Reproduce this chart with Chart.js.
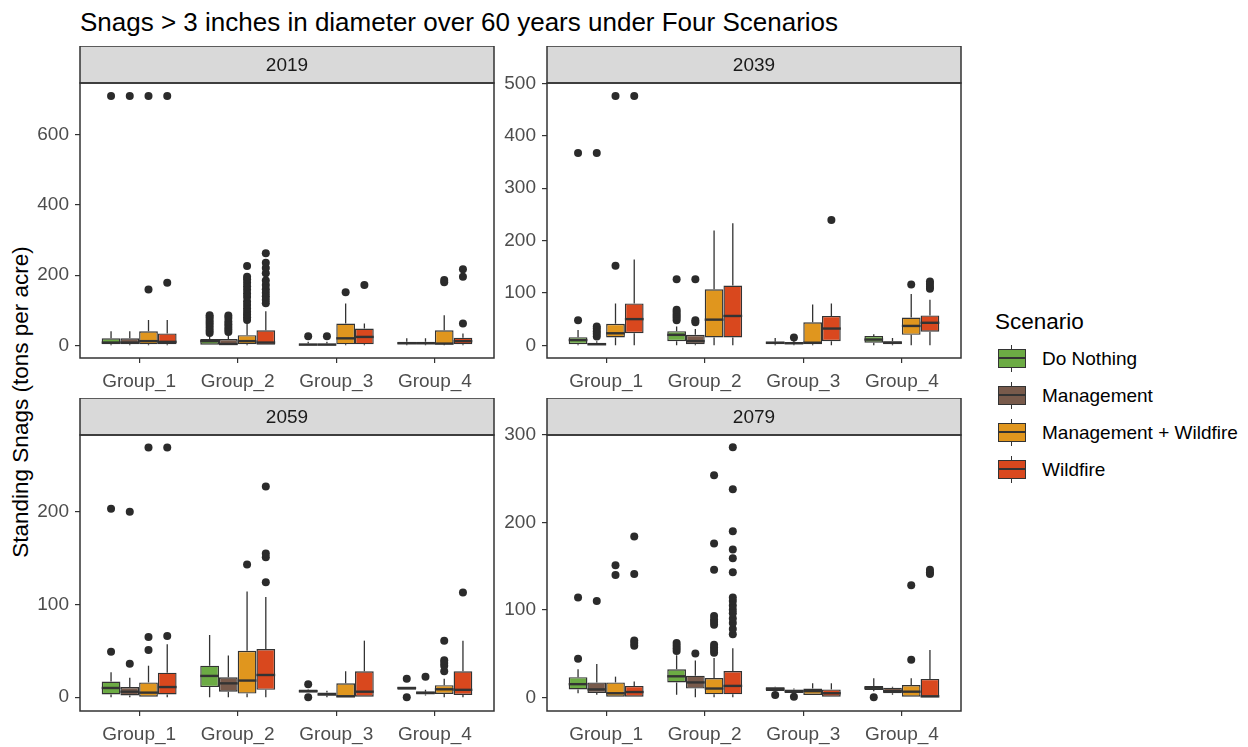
<!DOCTYPE html>
<html>
<head>
<meta charset="utf-8">
<script src="https://cdn.jsdelivr.net/npm/chart.js@4.4.1/dist/chart.umd.min.js"></script>
<style>
  body { margin: 0; background: #fff; font-family: "Liberation Sans", Arial, sans-serif; }
  #page { position: relative; width: 1248px; height: 747px; overflow: hidden; }
  .panel { position: absolute; }
  #title { position: absolute; left: 80px; top: 9px; font-size: 26px; line-height: 1; color: #000; white-space: nowrap; }
  #ylab { position: absolute; left: 21px; top: 402px; transform: translate(-50%, -50%) rotate(-90deg);
          font-size: 22.5px; line-height: 1; color: #000; white-space: nowrap; }
  #legend-title { position: absolute; left: 995px; top: 311px; font-size: 22.5px; line-height: 1; color: #000; }
  .key { position: absolute; left: 998px; width: 28px; height: 27px; }
  .key .wh { position: absolute; left: 13px; top: 0; width: 1px; height: 27px; background: #333; }
  .key .box { position: absolute; left: 0; top: 4px; width: 26px; height: 17px; border: 1px solid #333; }
  .key .med { position: absolute; left: 0; top: 12px; width: 28px; height: 2px; background: #333; }
  .lab { position: absolute; left: 1042px; font-size: 19px; line-height: 1; color: #000; transform: translateY(-50%); white-space: nowrap; }
</style>
</head>
<body>
<div id="page">
  <div id="title">Snags &gt; 3 inches in diameter over 60 years under Four Scenarios</div>
  <div id="ylab">Standing Snags (tons per acre)</div>
  <div class="panel" style="left:30px;top:46px"><canvas id="p2019" width="466" height="348"></canvas></div>
  <div class="panel" style="left:497px;top:46px"><canvas id="p2039" width="466" height="348"></canvas></div>
  <div class="panel" style="left:30px;top:398px"><canvas id="p2059" width="466" height="349"></canvas></div>
  <div class="panel" style="left:497px;top:398px"><canvas id="p2079" width="466" height="349"></canvas></div>
  <div id="legend-title">Scenario</div>
  <div id="legend"></div>
</div>
<script>
const groups = ['Group_1', 'Group_2', 'Group_3', 'Group_4'];
const scenarios = ['Do Nothing', 'Management', 'Management + Wildfire', 'Wildfire'];
const scenarioColors = ['#6cab44', '#785a4b', '#e0961e', '#d9481e'];
const years = ['2019', '2039', '2059', '2079'];

// box stats: one row per scenario, one [low whisker, q1, median, q3, high whisker] per group
const stats2019 = [
  [[0, 3, 8, 20, 40], [0, 0, 12, 18, 30], [0, 0, 2, 5, 10], [0, 3, 6, 10, 20]],
  [[0, 3, 8, 20, 40], [0, 0, 4, 18, 30], [0, 0, 2, 5, 10], [0, 3, 6, 10, 20]],
  [[0, 3, 12, 40, 72], [0, 3, 12, 29, 65], [0, 3, 20, 62, 119], [0, 3, 5, 43, 86]],
  [[0, 3, 10, 34, 72], [0, 0, 8, 43, 97], [0, 3, 24, 48, 62], [0, 3, 12, 22, 34]]
];
const outliers2019 = [
  [[710], [35, 42, 50, 58, 65, 72, 80, 86], [26], []],
  [[710], [38, 45, 52, 60, 68, 78, 85], [26], []],
  [[159, 710], [72, 80, 88, 96, 105, 115, 125, 138, 148, 158, 168, 178, 188, 195, 226], [151], [180, 186]],
  [[178, 710], [120, 130, 140, 150, 160, 172, 185, 205, 220, 235, 262], [172], [62, 195, 217]]
];

const stats2039 = [
  [[0, 2, 10, 15.5, 29], [0, 8, 20, 27, 36], [0, 2, 5, 7, 14], [0, 5, 11, 18, 21]],
  [[0, 0, 2, 5, 8], [0, 2, 8, 20, 31], [0, 2, 4, 6, 9], [0, 2, 5, 8, 14]],
  [[0, 15, 23, 41, 80], [0, 15, 49, 107, 219], [0, 2, 5, 44, 78], [0, 20, 37, 53, 98]],
  [[0, 23, 50, 80, 164], [0, 15, 56, 114, 233], [0, 8, 32, 56, 80], [0, 26, 43, 57, 87]]
];
const outliers2039 = [
  [[48, 367], [48, 52, 56, 60, 64, 68, 126], [], []],
  [[17, 22, 27, 32, 36, 367], [44, 48, 126], [15], []],
  [[152, 476], [], [], [116]],
  [[476], [], [239], [108, 112, 117, 122]]
];

const stats2059 = [
  [[0, 3, 10, 17, 27], [0, 11, 23, 34, 67], [5, 5, 6.5, 8.5, 9], [8, 8, 10, 11, 11]],
  [[0, 2, 6, 11, 21], [0, 6, 15, 21.5, 45], [0, 2, 3, 5, 7], [2, 3, 5, 6, 8]],
  [[0, 0, 5, 16, 34], [0, 4, 18, 50, 114], [0, 0, 1, 15, 28], [0, 3.5, 8.6, 13, 20]],
  [[0, 3, 11, 26.5, 57], [0, 8, 24, 52, 108], [0, 0, 6, 28, 61], [0, 2.5, 8, 28, 61]]
];
const outliers2059 = [
  [[49, 203], [], [0, 14], [0, 20]],
  [[36, 200], [], [], [22]],
  [[51, 65, 269], [143], [], [28, 34, 37, 40, 61]],
  [[66, 269], [124, 151, 155, 227], [], [113]]
];

const stats2079 = [
  [[4.6, 9, 15, 23, 32], [3, 17, 24, 32, 48], [7, 7.2, 9.7, 11.4, 12], [7, 8.3, 10.9, 13, 21.7]],
  [[3, 5, 9, 17, 38], [0, 10, 17, 24.7, 42], [5, 5, 7, 9, 10], [3, 4.6, 7, 11, 12]],
  [[0, 0, 4.6, 17, 23.6], [0, 3.4, 10, 22, 45], [2.6, 2.6, 7, 10, 16], [0, 0, 6.4, 14, 21.7]],
  [[0, 0, 6, 13, 18], [0, 3.4, 13, 30, 56], [0, 0, 4.6, 9, 16], [0, 0, 1, 21, 54]]
];
const outliers2079 = [
  [[44, 114], [53, 56, 59, 62], [2.6], [0]],
  [[110], [50], [0.5], []],
  [[140, 151], [51, 54, 57, 60, 83, 86, 89, 93, 146, 176, 254], [], [43, 128]],
  [[59, 62, 65, 141, 184], [72, 78, 85, 90, 96, 100, 105, 110, 114, 143, 159, 169, 190, 238, 286], [], [141, 143, 146]]
];

// y axis limits and tick labels per facet
const yLimits = [[-36, 747], [-24.2, 500.6], [-14.8, 282.6], [-15.7, 300]];
const yTicks = [[0, 200, 400, 600], [0, 100, 200, 300, 400, 500], [0, 100, 200], [0, 100, 200, 300]];

const stripH = 37;
const axisFont = { family: '"Liberation Sans", Arial, sans-serif', size: 19 };

//draws strip, whiskers, medians, outliers and panel border
const boxplotPlugin = (year, stats, outliers) => ({
  id: 'boxplot' + year,
  beforeDraw(chart) {
    const { ctx, chartArea: a } = chart;
    ctx.save();
    ctx.fillStyle = '#d9d9d9';
    ctx.fillRect(a.left, a.top - stripH, a.right - a.left, stripH);
    ctx.strokeStyle = '#333';
    ctx.lineWidth = 1.5;
    ctx.strokeRect(a.left, a.top - stripH, a.right - a.left, stripH);
    ctx.fillStyle = '#1a1a1a';
    ctx.font = '19px "Liberation Sans", Arial, sans-serif';
    ctx.textAlign = 'center';
    ctx.textBaseline = 'middle';
    ctx.fillText(year, (a.left + a.right) / 2, a.top - stripH / 2 + 1);
    ctx.restore();
  },
  afterDatasetsDraw(chart) {
    const { ctx, chartArea: a } = chart;
    const y = chart.scales.y;
    ctx.save();
    ctx.strokeStyle = '#333';
    ctx.fillStyle = '#2b2b2b';
    chart.data.datasets.forEach((ds, d) => {
      chart.getDatasetMeta(d).data.forEach((bar, i) => {
        const [lo, q1, med, q3, hi] = stats[d][i];
        const half = bar.width / 2;
        ctx.lineWidth = 1.3;
        ctx.beginPath();
        ctx.moveTo(bar.x, y.getPixelForValue(hi));
        ctx.lineTo(bar.x, y.getPixelForValue(q3));
        ctx.moveTo(bar.x, y.getPixelForValue(q1));
        ctx.lineTo(bar.x, y.getPixelForValue(lo));
        ctx.stroke();
        ctx.lineWidth = 2.4;
        ctx.beginPath();
        ctx.moveTo(bar.x - half, y.getPixelForValue(med));
        ctx.lineTo(bar.x + half, y.getPixelForValue(med));
        ctx.stroke();
        outliers[d][i].forEach(v => {
          ctx.beginPath();
          ctx.arc(bar.x, y.getPixelForValue(v), 4, 0, Math.PI * 2);
          ctx.fill();
        });
      });
    });
    ctx.lineWidth = 1.5;
    ctx.strokeRect(a.left, a.top, a.right - a.left, a.bottom - a.top);
    ctx.restore();
  }
});

const makePanel = (p, stats, outliers) => {
  new Chart(document.getElementById('p' + years[p]), {
    type: 'bar',
    data: {
      datasets: scenarios.map((s, d) => ({
        label: s,
        data: groups.map((g, i) => ({ x: i + 1, y: [stats[d][i][1], stats[d][i][3]] })),
        backgroundColor: scenarioColors[d],
        borderColor: '#333',
        borderWidth: 1.4,
        borderSkipped: false,
        categoryPercentage: 0.76,
        barPercentage: 1
      }))
    },
    options: {
      responsive: false,
      animation: false,
      layout: { padding: { top: stripH, right: 2, left: 0, bottom: 0 } },
      plugins: { legend: { display: false }, tooltip: { enabled: false } },
      scales: {
        x: {
          type: 'linear',
          offset: false,
          min: 0.4,
          max: 4.6,
          afterBuildTicks: s => { s.ticks = groups.map((g, i) => ({ value: i + 1 })); },
          afterFit: s => { s.height = 36; },
          grid: { offset: false, drawOnChartArea: false, tickLength: 5, color: '#333', lineWidth: 1.2 },
          border: { display: false },
          ticks: { font: axisFont, color: '#4d4d4d', padding: 7, callback: v => groups[v - 1] }
        },
        y: {
          min: yLimits[p][0],
          max: yLimits[p][1],
          afterBuildTicks: s => { s.ticks = yTicks[p].map(v => ({ value: v })); },
          afterFit: s => { s.width = 50; },
          grid: { drawOnChartArea: false, tickLength: 5, color: '#333', lineWidth: 1.2 },
          border: { display: false },
          ticks: { font: axisFont, color: '#4d4d4d', padding: 6 }
        }
      }
    },
    plugins: [boxplotPlugin(years[p], stats, outliers)]
  });
};

makePanel(0, stats2019, outliers2019);
makePanel(1, stats2039, outliers2039);
makePanel(2, stats2059, outliers2059);
makePanel(3, stats2079, outliers2079);

//legend rows
const legend = document.getElementById('legend');
scenarios.forEach((s, d) => {
  const cy = 358 + 37 * d;
  legend.insertAdjacentHTML('beforeend',
    `<div class="key" style="top:${cy - 13.5}px"><div class="wh"></div>` +
    `<div class="box" style="background:${scenarioColors[d]}"></div><div class="med"></div></div>` +
    `<div class="lab" style="top:${cy}px">${s}</div>`);
});
</script>
</body>
</html>
